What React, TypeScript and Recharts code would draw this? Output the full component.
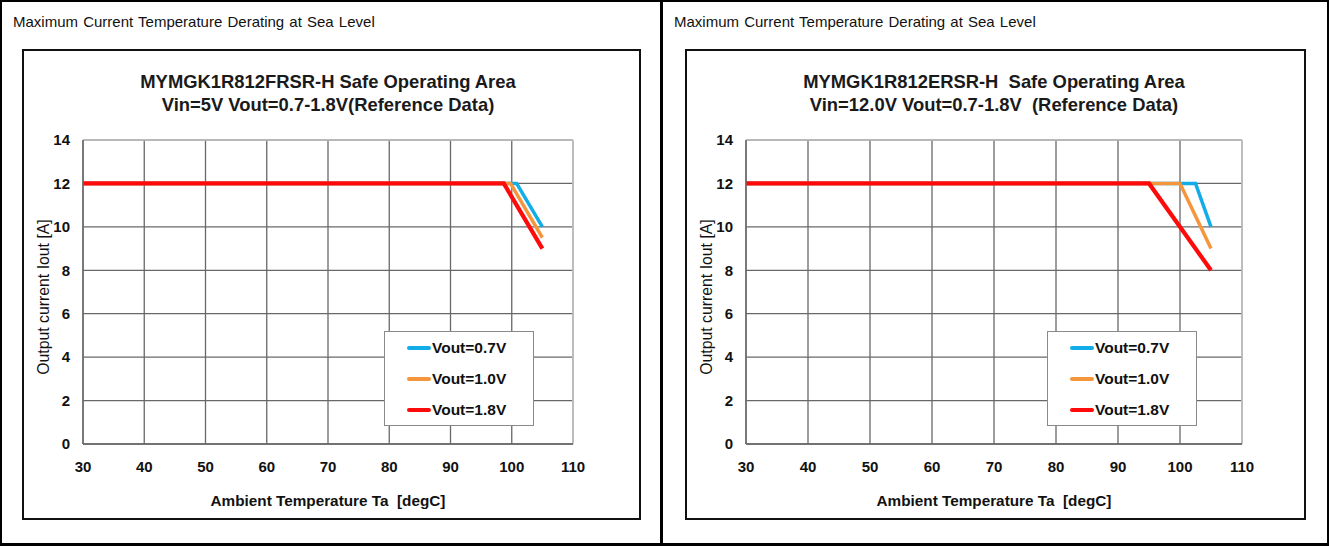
import React from 'react';
import { LineChart, Line, XAxis, YAxis, CartesianGrid, ReferenceLine, Legend } from 'recharts';

// ---- shared axis data ----
const xTicks = [30, 40, 50, 60, 70, 80, 90, 100, 110];
const yTicks = [0, 2, 4, 6, 8, 10, 12, 14];
const seriesNames = ['Vout=0.7V', 'Vout=1.0V', 'Vout=1.8V'];
const seriesColors = ['#12ade8', '#f5963c', '#ff0a0a'];
const seriesWidths = [3.5, 3.5, 4.2];

const headerText = 'Maximum Current Temperature Derating at Sea Level';
const xLabelText = 'Ambient Temperature Ta  [degC]';
const yLabelText = 'Output current Iout [A]';

// ---- left chart (MYMGK1R812FRSR-H, Vin=5V) ----
const leftTitle1 = 'MYMGK1R812FRSR-H Safe Operating Area';
const leftTitle2 = 'Vin=5V Vout=0.7-1.8V(Reference Data)';
const leftV07 = [{ t: 30, i: 12 }, { t: 100.8, i: 12 }, { t: 105, i: 10 }];
const leftV10 = [{ t: 30, i: 12 }, { t: 99.8, i: 12 }, { t: 105, i: 9.5 }];
const leftV18 = [{ t: 30, i: 12 }, { t: 98.7, i: 12 }, { t: 105, i: 9 }];

// ---- right chart (MYMGK1R812ERSR-H, Vin=12.0V) ----
const rightTitle1 = 'MYMGK1R812ERSR-H  Safe Operating Area';
const rightTitle2 = 'Vin=12.0V Vout=0.7-1.8V  (Reference Data)';
const rightV07 = [{ t: 30, i: 12 }, { t: 102.5, i: 12 }, { t: 105, i: 10 }];
const rightV10 = [{ t: 30, i: 12 }, { t: 100, i: 12 }, { t: 105, i: 9 }];
const rightV18 = [{ t: 30, i: 12 }, { t: 95, i: 12 }, { t: 105, i: 8 }];

const FONT = '"Liberation Sans", Arial, sans-serif';
const GRID = '#686868';

const LegendBox = () => (
  <div
    style={{
      width: 150,
      height: 95,
      boxSizing: 'border-box',
      border: '1px solid #8a8a8a',
      background: '#fff',
      position: 'relative',
      fontFamily: FONT,
    }}
  >
    {seriesNames.map((n, k) => (
      <div
        key={n}
        style={{
          position: 'absolute',
          left: 22,
          top: 16 + k * 31 - 10,
          height: 20,
          display: 'flex',
          alignItems: 'center',
        }}
      >
        <div style={{ width: 24, height: 4, background: seriesColors[k], borderRadius: 2 }} />
        <span style={{ fontSize: 15.5, fontWeight: 700, color: '#111', marginLeft: 1 }}>{n}</span>
      </div>
    ))}
  </div>
);

type Pt = { t: number; i: number };

const Panel = ({
  left,
  boxW,
  headerLeft,
  title1,
  title2,
  series,
  rightMargin,
}: {
  left: number;
  boxW: number;
  headerLeft: number;
  title1: string;
  title2: string;
  series: Pt[][];
  rightMargin: number;
}) => {
  const plotLeft = 61;
  const plotW = boxW - plotLeft - rightMargin;
  return (
    <>
      <div
        style={{
          position: 'absolute',
          left: headerLeft,
          top: 13,
          fontFamily: FONT,
          fontSize: 15,
          color: '#111',
          whiteSpace: 'pre',
          wordSpacing: 1,
        }}
      >
        {headerText}
      </div>
      <div
        style={{
          position: 'absolute',
          left,
          top: 49,
          width: boxW,
          height: 471,
          boxSizing: 'border-box',
          border: '2px solid #111',
          background: '#fff',
        }}
      />
      <div style={{ position: 'absolute', left, top: 49, width: boxW, height: 471 }}>
        <LineChart
          width={boxW}
          height={471}
          margin={{ top: 91, right: rightMargin, bottom: 46, left: 21 }}
        >
          <CartesianGrid stroke={GRID} strokeWidth={1.3} />
          <XAxis
            type="number"
            dataKey="t"
            domain={[30, 110]}
            ticks={xTicks}
            allowDataOverflow
            height={30}
            tickSize={0}
            tickMargin={17}
            axisLine={{ stroke: GRID, strokeWidth: 1.3 }}
            tick={{ fill: '#111', fontSize: 15, fontWeight: 700, fontFamily: FONT }}
          />
          <YAxis
            type="number"
            dataKey="i"
            domain={[0, 14]}
            ticks={yTicks}
            width={40}
            tickSize={0}
            tickMargin={13}
            axisLine={{ stroke: GRID, strokeWidth: 1.3 }}
            tick={{ fill: '#111', fontSize: 15, fontWeight: 700, fontFamily: FONT }}
          />
          <ReferenceLine y={14} stroke="#c6c6c6" strokeWidth={1.6} />
          <ReferenceLine x={110} stroke="#c6c6c6" strokeWidth={1.6} />
          {series.map((d, k) => (
            <Line
              key={seriesNames[k]}
              data={d}
              dataKey="i"
              name={seriesNames[k]}
              stroke={seriesColors[k]}
              strokeWidth={seriesWidths[k]}
              dot={false}
              activeDot={false}
              isAnimationActive={false}
              type="linear"
            />
          ))}
          <Legend
            layout="vertical"
            align="center"
            verticalAlign="middle"
            content={() => <LegendBox />}
            wrapperStyle={{ position: 'absolute', left: 362, top: 282, width: 150, height: 95 }}
          />
        </LineChart>
      </div>
      {/* chart title */}
      <div
        style={{
          position: 'absolute',
          left: left + plotLeft,
          width: plotW,
          top: 70,
          textAlign: 'center',
          fontFamily: FONT,
          fontWeight: 700,
          fontSize: 18.4,
          lineHeight: '23px',
          color: '#1a1a1a',
          whiteSpace: 'pre',
        }}
      >
        <div>{title1}</div>
        <div>{title2}</div>
      </div>
      {/* x-axis label */}
      <div
        style={{
          position: 'absolute',
          left: left + plotLeft,
          width: plotW,
          top: 492,
          textAlign: 'center',
          fontFamily: FONT,
          fontWeight: 700,
          fontSize: 15.3,
          color: '#111',
          whiteSpace: 'pre',
        }}
      >
        {xLabelText}
      </div>
      {/* y-axis label */}
      <div
        style={{
          position: 'absolute',
          left: left + 22 - 100,
          top: 297 - 10,
          width: 200,
          height: 20,
          lineHeight: '20px',
          textAlign: 'center',
          transform: 'rotate(-90deg)',
          fontFamily: FONT,
          fontSize: 15.8,
          color: '#111',
          whiteSpace: 'pre',
        }}
      >
        {yLabelText}
      </div>
    </>
  );
};

export default function App() {
  return (
    <div
      style={{
        position: 'absolute',
        left: 0,
        top: 0,
        width: 1329,
        height: 546,
        background: '#fff',
        overflow: 'hidden',
      }}
    >
      <div
        style={{
          position: 'absolute',
          left: 0,
          top: 0,
          width: 1329,
          height: 546,
          boxSizing: 'border-box',
          border: '2.5px solid #000',
          borderBottomWidth: 3,
        }}
      />
      <div style={{ position: 'absolute', left: 660, top: 0, width: 3, height: 546, background: '#000' }} />
      <Panel
        left={22}
        boxW={619}
        headerLeft={13}
        title1={leftTitle1}
        title2={leftTitle2}
        series={[leftV07, leftV10, leftV18]}
        rightMargin={68}
      />
      <Panel
        left={685}
        boxW={621}
        headerLeft={674}
        title1={rightTitle1}
        title2={rightTitle2}
        series={[rightV07, rightV10, rightV18]}
        rightMargin={64}
      />
    </div>
  );
}
